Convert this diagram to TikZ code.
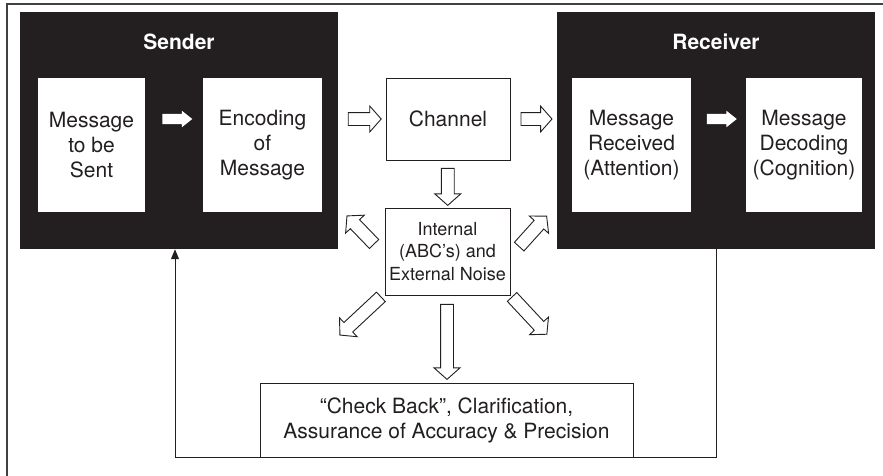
\documentclass[tikz,border=0pt]{standalone}
\usepackage{fontspec}
\setmainfont{TeX Gyre Heros}
\usetikzlibrary{positioning,calc,shapes.arrows,arrows.meta}
\definecolor{inkblack}{RGB}{35,31,32}

\begin{document}
\begin{tikzpicture}[x=1pt, y=-1pt,
  frame/.style={draw=black!75, line width=2pt},
  group/.style={fill=inkblack, draw=none, inner sep=0, minimum width=318pt, minimum height=237pt},
  grouptitle/.style={text=white, inner sep=0, font=\fontsize{21}{25}\selectfont\bfseries},
  inbox/.style={fill=white, draw=none, text=inkblack, align=center, inner sep=0, minimum height=134pt, font=\fontsize{21}{25}\selectfont},
  wbox/.style={draw=inkblack, line width=1pt, fill=white, text=inkblack, align=center, inner sep=0, font=\fontsize{21}{25}\selectfont},
  whitearrow/.style={single arrow, fill=white, draw=none, inner xsep=0, inner ysep=5pt, single arrow head extend=3pt, single arrow tip angle=77, minimum height=30pt},
  hollowarrow/.style={single arrow, fill=white, draw=inkblack, line width=0.9pt, inner xsep=0, inner ysep=6pt, single arrow head extend=6.5pt, single arrow tip angle=97},
  feedback/.style={draw=inkblack, line width=1pt, -{Triangle[width=8pt,length=10pt]}}
]
\useasboundingbox (0,0) rectangle (883,475);
\draw[frame] (7,480) -- (7,4) -- (890,4);

% groups %
\node[group] (sender) at (179,130.5) {};
\node[group] (receiver) at (716,130.5) {};
\node[grouptitle, below = 22pt of sender.north] (sendertitle) {Sender};
\node[grouptitle, below = 22pt of receiver.north] (receivertitle) {Receiver};

% boxes %
\node[inbox, minimum width=107pt] (tosend) at (91.5,145) {Message\\to be\\Sent};
\node[inbox, minimum width=119pt] (encoding) at (262.5,145) {Encoding\\of\\Message};
\node[inbox, minimum width=119pt] (received) at (631.5,145) {Message\\Received\\(Attention)};
\node[inbox, minimum width=116pt] (decoding) at (804,145) {Message\\Decoding\\(Cognition)};
\node[wbox, minimum width=124pt, minimum height=82pt] (channel) at (448,119) {Channel};
\node[wbox, minimum width=125pt, minimum height=87pt, font=\fontsize{18}{22.5}\selectfont] (noise) at (447.5,251.5) {Internal\\(ABC’s) and\\External Noise};
\node[wbox, minimum width=373pt, minimum height=74pt] (check) at (446.5,420) {“Check Back”, Clarification,\\Assurance of Accuracy \& Precision};

% arrows %
\node[whitearrow] (sendstep) at ($(tosend.east |- channel)!0.5!(encoding.west |- channel)$) {};
\node[whitearrow] (receivestep) at ($(received.east |- channel)!0.5!(decoding.west |- channel)$) {};
\node[hollowarrow, minimum height=33pt] (tochannel) at ($(sender.east |- channel)!0.5!(channel.west)$) {};
\node[hollowarrow, minimum height=31pt] (toreceiver) at ($(channel.east)!0.5!(receiver.west |- channel)$) {};
\node[hollowarrow, minimum height=37pt, rotate=-90] (tonoise) at ($(channel.south)!0.5!(noise.north)$) {};
\node[hollowarrow, minimum height=75pt, rotate=-90] (tocheck) at ($(noise.south)!0.5!(check.north)$) {};
\node[hollowarrow, minimum height=39pt, rotate=134] (noisesender) at (362.5,232) {};
\node[hollowarrow, minimum height=41pt, rotate=48] (noisereceiver) at (531,233.5) {};
\node[hollowarrow, minimum height=56pt, rotate=223] (noiseleft) at (362.5,314) {};
\node[hollowarrow, minimum height=51pt, rotate=313] (noiseright) at (527.5,313.5) {};

% feedback %
\draw[feedback] (receiver.south) |- (check.south) -| ([xshift=-4pt]sender.south);

\end{tikzpicture}
\end{document}
